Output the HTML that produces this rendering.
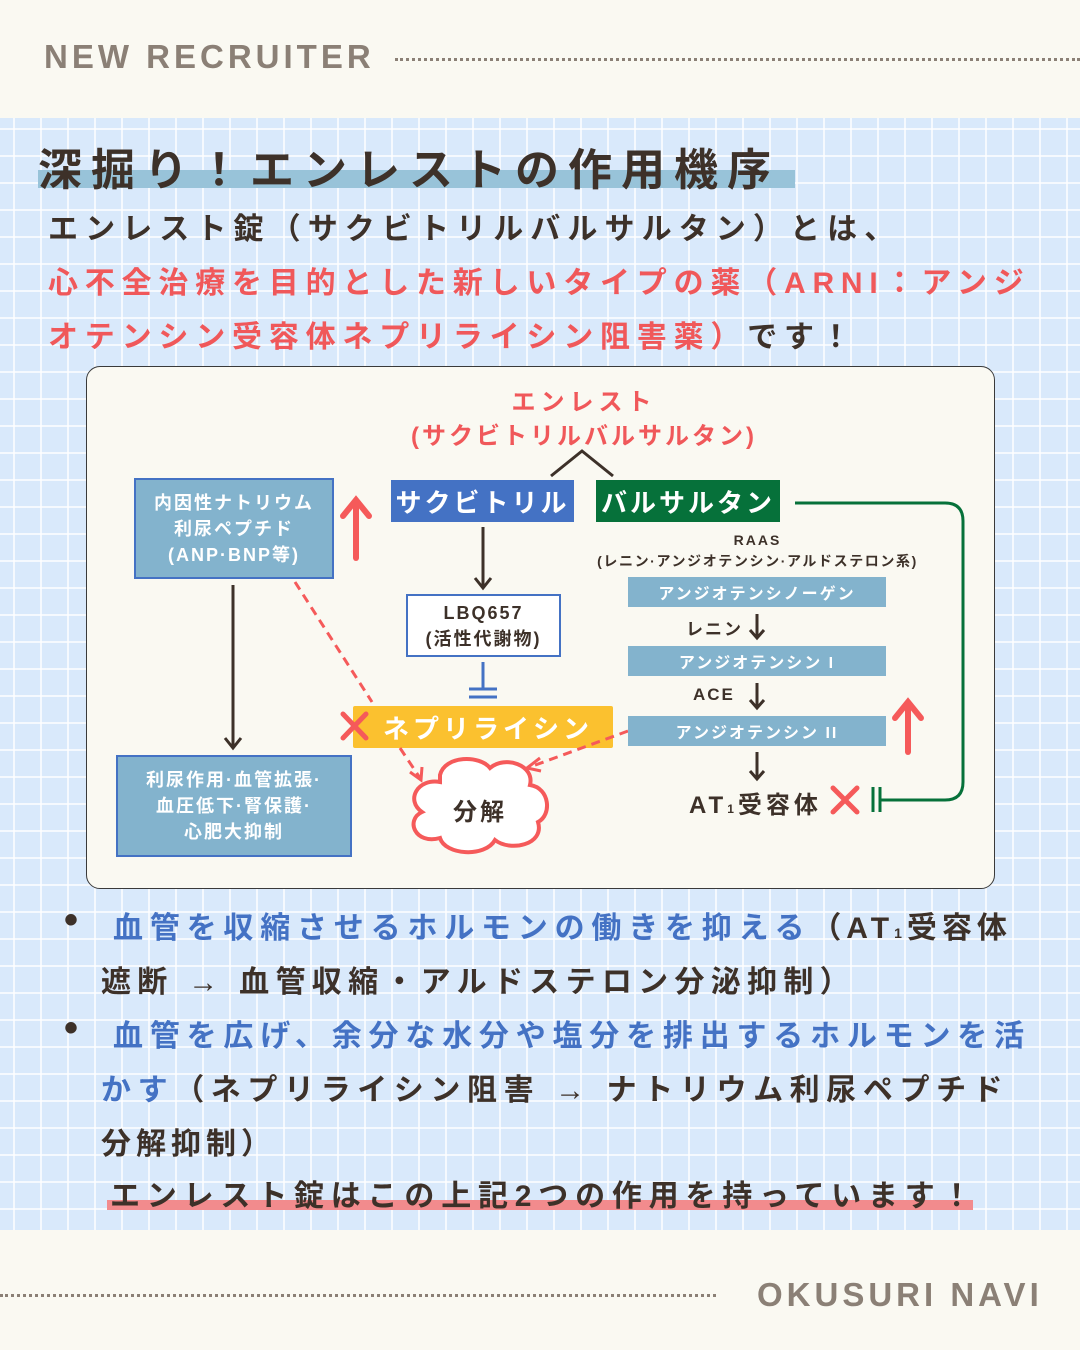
<!DOCTYPE html>
<html><head><meta charset="utf-8">
<style>
*{margin:0;padding:0;box-sizing:border-box}
body{width:1080px;height:1350px;overflow:hidden;background:#faf9f2;font-family:"Liberation Sans","Noto Sans CJK JP",sans-serif;font-weight:700;color:#3d3129;position:relative}
.a{position:absolute;white-space:nowrap}
.grid{position:absolute;left:0;top:118px;width:1080px;height:1112px;background-color:#d9e9fb;
background-image:linear-gradient(to right,rgba(255,255,255,.75) 2px,transparent 2px),linear-gradient(to bottom,rgba(255,255,255,.75) 2px,transparent 2px);
background-size:27px 27px;background-position:13px 10px}
.c{text-align:center;display:flex;align-items:center;justify-content:center;color:#fff}
</style></head><body>
<div class="a" style="left:44px;top:38px;font-size:33px;letter-spacing:4px;color:#8b8076">NEW RECRUITER</div>
<div class="a" style="left:395px;top:58px;width:685px;border-top:3px dotted #8b8076"></div>
<div class="grid"></div>
<div class="a" style="left:38px;top:170px;width:757px;height:18px;background:#98c3d9"></div>
<div class="a" style="left:38px;top:134px;font-size:44px;letter-spacing:9px;color:#3d3129">深掘り！エンレストの作用機序</div>
<div class="a" style="left:48px;top:204px;font-size:30px;letter-spacing:7.1px">エンレスト錠（サクビトリルバルサルタン）とは、</div>
<div class="a" style="left:48px;top:258px;font-size:30px;letter-spacing:6.8px;color:#f0585a">心不全治療を目的とした新しいタイプの薬（ARNI：アンジ</div>
<div class="a" style="left:48px;top:312px;font-size:30px;letter-spacing:6.8px;color:#f0585a">オテンシン受容体ネプリライシン阻害薬）<span style="color:#3d3129">です！</span></div>

<div class="a" style="left:86px;top:366px;width:909px;height:523px;border:1.5px solid #3a3a3a;border-radius:14px;background:#faf9f2"></div>

<div class="a c" style="left:353px;top:706px;width:260px;height:42px;background:#fbc12f;font-size:26px;letter-spacing:4px;border-radius:2px;padding-left:10px">ネプリライシン</div>

<svg class="a" style="left:0;top:0" width="1080" height="1350">
<polyline points="551,476 582,451 613,476" fill="none" stroke="#3d3129" stroke-width="3"/>
<line x1="483" y1="527" x2="483" y2="586" stroke="#3d3129" stroke-width="3"/>
<polyline points="475,578 483,588 491,578" fill="none" stroke="#3d3129" stroke-width="3"/>
<line x1="483" y1="662" x2="483" y2="689" stroke="#4472c4" stroke-width="3"/>
<line x1="469" y1="689" x2="497" y2="689" stroke="#4472c4" stroke-width="3"/>
<line x1="469" y1="697" x2="497" y2="697" stroke="#4472c4" stroke-width="3"/>
<line x1="233" y1="585" x2="233" y2="746" stroke="#3d3129" stroke-width="3"/>
<polyline points="225,738 233,748 241,738" fill="none" stroke="#3d3129" stroke-width="3"/>
<line x1="356" y1="503" x2="356" y2="558" stroke="#f55a5a" stroke-width="6" stroke-linecap="round"/>
<polyline points="343,516 356,500 369,516" fill="none" stroke="#f55a5a" stroke-width="6" stroke-linecap="round"/>
<line x1="908" y1="705" x2="908" y2="752" stroke="#f55a5a" stroke-width="6" stroke-linecap="round"/>
<polyline points="895,718 908,702 921,718" fill="none" stroke="#f55a5a" stroke-width="6" stroke-linecap="round"/>
<line x1="295" y1="582" x2="372" y2="702" stroke="#f55a5a" stroke-width="3" stroke-dasharray="9,6"/>
<line x1="400" y1="748" x2="420" y2="778" stroke="#f55a5a" stroke-width="3" stroke-dasharray="9,6"/>
<polyline points="410,772 421,780 422,767" fill="none" stroke="#f55a5a" stroke-width="3"/>
<line x1="628" y1="731" x2="530" y2="767" stroke="#f55a5a" stroke-width="3" stroke-dasharray="9,6"/>
<polyline points="540,758 527,768 541,771" fill="none" stroke="#f55a5a" stroke-width="3"/>
<path d="M440,775 C445,755 480,755 490,768 C505,755 535,765 530,785 C550,788 552,815 538,822 C545,845 510,852 495,840 C485,858 445,855 440,838 C415,845 405,820 422,812 C405,800 418,778 440,782 Z" fill="#fff" stroke="#f55a5a" stroke-width="4"/>
<line x1="757" y1="614" x2="757" y2="637" stroke="#3d3129" stroke-width="3"/>
<polyline points="750,630 757,638 764,630" fill="none" stroke="#3d3129" stroke-width="3"/>
<line x1="757" y1="683" x2="757" y2="707" stroke="#3d3129" stroke-width="3"/>
<polyline points="750,700 757,708 764,700" fill="none" stroke="#3d3129" stroke-width="3"/>
<line x1="757" y1="752" x2="757" y2="778" stroke="#3d3129" stroke-width="3"/>
<polyline points="750,771 757,779 764,771" fill="none" stroke="#3d3129" stroke-width="3"/>
<path d="M795,503 L945,503 Q963,503 963,521 L963,782 Q963,800 945,800 L880,800" fill="none" stroke="#06713a" stroke-width="3"/>
<line x1="873" y1="787" x2="873" y2="812" stroke="#06713a" stroke-width="3"/>
<line x1="880" y1="787" x2="880" y2="812" stroke="#06713a" stroke-width="3"/>
<g stroke="#f55a5a" stroke-width="5" stroke-linecap="round">
<line x1="343" y1="714" x2="366" y2="738"/><line x1="366" y1="714" x2="343" y2="738"/>
<line x1="833" y1="788" x2="857" y2="812"/><line x1="857" y1="788" x2="833" y2="812"/>
</g>
</svg>

<div class="a" style="left:384px;top:382px;width:400px;text-align:center;font-size:24px;letter-spacing:5px;color:#f0585a">エンレスト</div>
<div class="a" style="left:384px;top:416px;width:400px;text-align:center;font-size:24px;letter-spacing:3px;color:#f0585a">(サクビトリルバルサルタン)</div>

<div class="a c" style="left:391px;top:480px;width:183px;height:42px;background:#4472c4;font-size:26px;letter-spacing:3px">サクビトリル</div>
<div class="a c" style="left:596px;top:480px;width:184px;height:42px;background:#06713a;font-size:26px;letter-spacing:3px">バルサルタン</div>

<div class="a c" style="left:134px;top:478px;width:200px;height:101px;background:#83b3cd;border:2px solid #4472c4;font-size:18px;letter-spacing:2px;line-height:26px;flex-direction:column">内因性ナトリウム<br>利尿ペプチド<br>(ANP·BNP等)</div>
<div class="a c" style="left:406px;top:594px;width:155px;height:63px;background:#fff;border:2px solid #4472c4;color:#3d3129;font-size:18px;letter-spacing:2px;line-height:26px;flex-direction:column">LBQ657<br>(活性代謝物)</div>
<div class="a" style="left:440px;top:792px;width:80px;text-align:center;font-size:24px;letter-spacing:3px">分解</div>
<div class="a c" style="left:116px;top:755px;width:236px;height:102px;background:#83b3cd;border:2px solid #4472c4;font-size:18px;letter-spacing:2px;line-height:26px;flex-direction:column">利尿作用·血管拡張·<br>血圧低下·腎保護·<br>心肥大抑制</div>

<div class="a" style="left:580px;top:532px;width:355px;text-align:center;font-size:14px;letter-spacing:2px">RAAS</div>
<div class="a" style="left:580px;top:551px;width:355px;text-align:center;font-size:14px;letter-spacing:1.6px">(レニン·アンジオテンシン·アルドステロン系)</div>
<div class="a c" style="left:628px;top:577px;width:258px;height:30px;background:#83b3cd;font-size:16px;letter-spacing:2px">アンジオテンシノーゲン</div>
<div class="a" style="left:686px;top:615px;font-size:17px;letter-spacing:2px">レニン</div>
<div class="a c" style="left:628px;top:646px;width:258px;height:30px;background:#83b3cd;font-size:16px;letter-spacing:2px">アンジオテンシン I</div>
<div class="a" style="left:693px;top:685px;font-size:17px;letter-spacing:2px">ACE</div>
<div class="a c" style="left:628px;top:716px;width:258px;height:30px;background:#83b3cd;font-size:16px;letter-spacing:2px">アンジオテンシン II</div>
<div class="a" style="left:689px;top:785px;font-size:24px;letter-spacing:4px">AT<span style="font-size:12px">1</span>受容体</div>

<div class="a" style="left:64px;top:898px;font-size:40px;">•</div>
<div class="a" style="left:113px;top:903px;font-size:30px;letter-spacing:6.8px;color:#4472c4">血管を収縮させるホルモンの働きを抑える<span style="color:#3d3129;letter-spacing:5px">（AT<span style="font-size:14px">1</span>受容体</span></div>
<div class="a" style="left:101px;top:957px;font-size:30px;letter-spacing:6.3px">遮断 → 血管収縮・アルドステロン分泌抑制）</div>
<div class="a" style="left:64px;top:1006px;font-size:40px;">•</div>
<div class="a" style="left:113px;top:1011px;font-size:30px;letter-spacing:6.8px;color:#4472c4">血管を広げ、余分な水分や塩分を排出するホルモンを活</div>
<div class="a" style="left:101px;top:1065px;font-size:30px;letter-spacing:6.6px"><span style="color:#4472c4">かす</span>（ネプリライシン阻害 → ナトリウム利尿ペプチド</div>
<div class="a" style="left:101px;top:1119px;font-size:30px;letter-spacing:5px">分解抑制）</div>
<div class="a" style="left:107px;top:1200px;width:866px;height:10px;background:#f28b8d"></div>
<div class="a" style="left:110px;top:1171px;font-size:30px;letter-spacing:6.8px">エンレスト錠はこの上記2つの作用を持っています！</div>

<div class="a" style="left:0;top:1294px;width:716px;border-top:3px dotted #8b8076"></div>
<div class="a" style="left:757px;top:1276px;font-size:33px;letter-spacing:4px;color:#8b8076">OKUSURI NAVI</div>
</body></html>
